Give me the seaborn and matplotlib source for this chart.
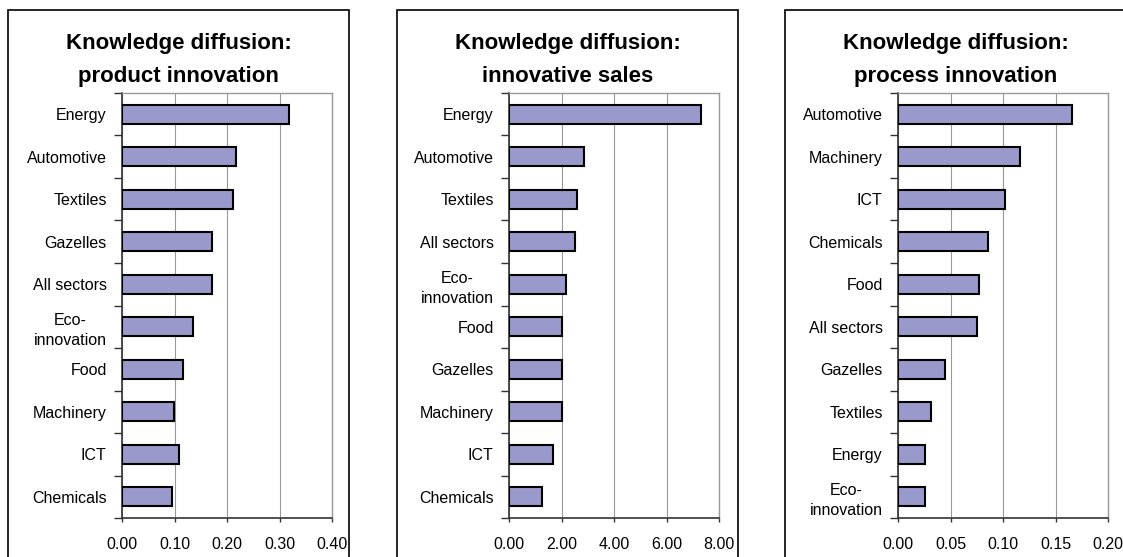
import matplotlib.pyplot as plt
import seaborn as sns
import pandas as pd
from matplotlib.patches import Rectangle
from matplotlib.ticker import MultipleLocator, FormatStrFormatter

# --------------------------------------------------
# Data
# --------------------------------------------------
product_sectors = ["Energy", "Automotive", "Textiles", "Gazelles", "All sectors",
                   "Eco-\ninnovation", "Food", "Machinery", "ICT", "Chemicals"]
product_values = [0.318, 0.218, 0.211, 0.171, 0.171, 0.135, 0.117, 0.099, 0.108, 0.096]

sales_sectors = ["Energy", "Automotive", "Textiles", "All sectors", "Eco-\ninnovation",
                 "Food", "Gazelles", "Machinery", "ICT", "Chemicals"]
sales_values = [7.30, 2.87, 2.59, 2.51, 2.16, 2.03, 2.03, 2.03, 1.66, 1.24]

process_sectors = ["Automotive", "Machinery", "ICT", "Chemicals", "Food", "All sectors",
                   "Gazelles", "Textiles", "Energy", "Eco-\ninnovation"]
process_values = [0.166, 0.116, 0.102, 0.086, 0.077, 0.075, 0.045, 0.031, 0.026, 0.026]

titles = ["Knowledge diffusion:\nproduct innovation",
          "Knowledge diffusion:\ninnovative sales",
          "Knowledge diffusion:\nprocess innovation"]

panels = [
    (product_sectors, product_values, 0.40, 0.10),
    (sales_sectors, sales_values, 8.0, 2.0),
    (process_sectors, process_values, 0.20, 0.05),
]

sns.set_style("white")
plt.rcParams["font.family"] = ["Liberation Sans", "DejaVu Sans"]
plt.rcParams["text.color"] = "black"
plt.rcParams["xtick.color"] = "black"
plt.rcParams["ytick.color"] = "black"

W, H = 1123, 557
fig = plt.figure(figsize=(W / 100, H / 100), dpi=100)

frame_left = [8, 397, 785]
plot_left = [122, 509, 898]
plot_w, plot_top, plot_bottom = 210, 93, 518
frame_w = 341

for i, (sectors, values, xmax, step) in enumerate(panels):
    # outer chart frame
    fig.add_artist(Rectangle((frame_left[i] / W, -0.02), frame_w / W, (H - 10) / H + 0.02,
                             transform=fig.transFigure, fill=False,
                             edgecolor="black", linewidth=1.2))
    fig.text((frame_left[i] + frame_w / 2) / W, 1 - 60 / H, titles[i],
             ha="center", va="center", fontsize=16, fontweight="bold",
             linespacing=1.75, color="black")

    ax = fig.add_axes([plot_left[i] / W, (H - plot_bottom) / H,
                       plot_w / W, (plot_bottom - plot_top) / H])
    df = pd.DataFrame({"sector": sectors, "value": values})
    sns.barplot(data=df, x="value", y="sector", orient="h", ax=ax,
                color="#9999CC", saturation=1, edgecolor="black",
                linewidth=1.5, width=0.45, zorder=3)

    ax.set_xlim(0, xmax)
    ax.set_ylim(len(sectors) - 0.5, -0.5)
    ax.xaxis.set_major_locator(MultipleLocator(step))
    ax.xaxis.set_major_formatter(FormatStrFormatter("%.2f"))
    ax.grid(axis="x", color="#999999", linewidth=0.8, zorder=0)
    ax.set_axisbelow(True)
    ax.set_xlabel("")
    ax.set_ylabel("")

    # tick marks between categories, labels centred on bars
    ax.set_yticks([k - 0.5 for k in range(len(sectors) + 1)], minor=True)
    ax.tick_params(axis="y", which="major", left=True, length=0, pad=11,
                   labelsize=11.5, labelcolor="black")
    ax.tick_params(axis="y", which="minor", left=True, length=6, width=1,
                   color="#333333", direction="out")
    ax.tick_params(axis="x", which="major", bottom=True, length=3, width=1,
                   color="#333333", direction="out", pad=11, labelsize=11.5,
                   labelcolor="black")
    for lbl in ax.get_yticklabels():
        lbl.set_multialignment("center")
        lbl.set_linespacing(1.4)

    for side in ["top", "right"]:
        ax.spines[side].set_color("#999999")
        ax.spines[side].set_linewidth(1)
    for side in ["left", "bottom"]:
        ax.spines[side].set_color("#333333")
        ax.spines[side].set_linewidth(1.2)

fig.savefig("out.png", dpi=100)
